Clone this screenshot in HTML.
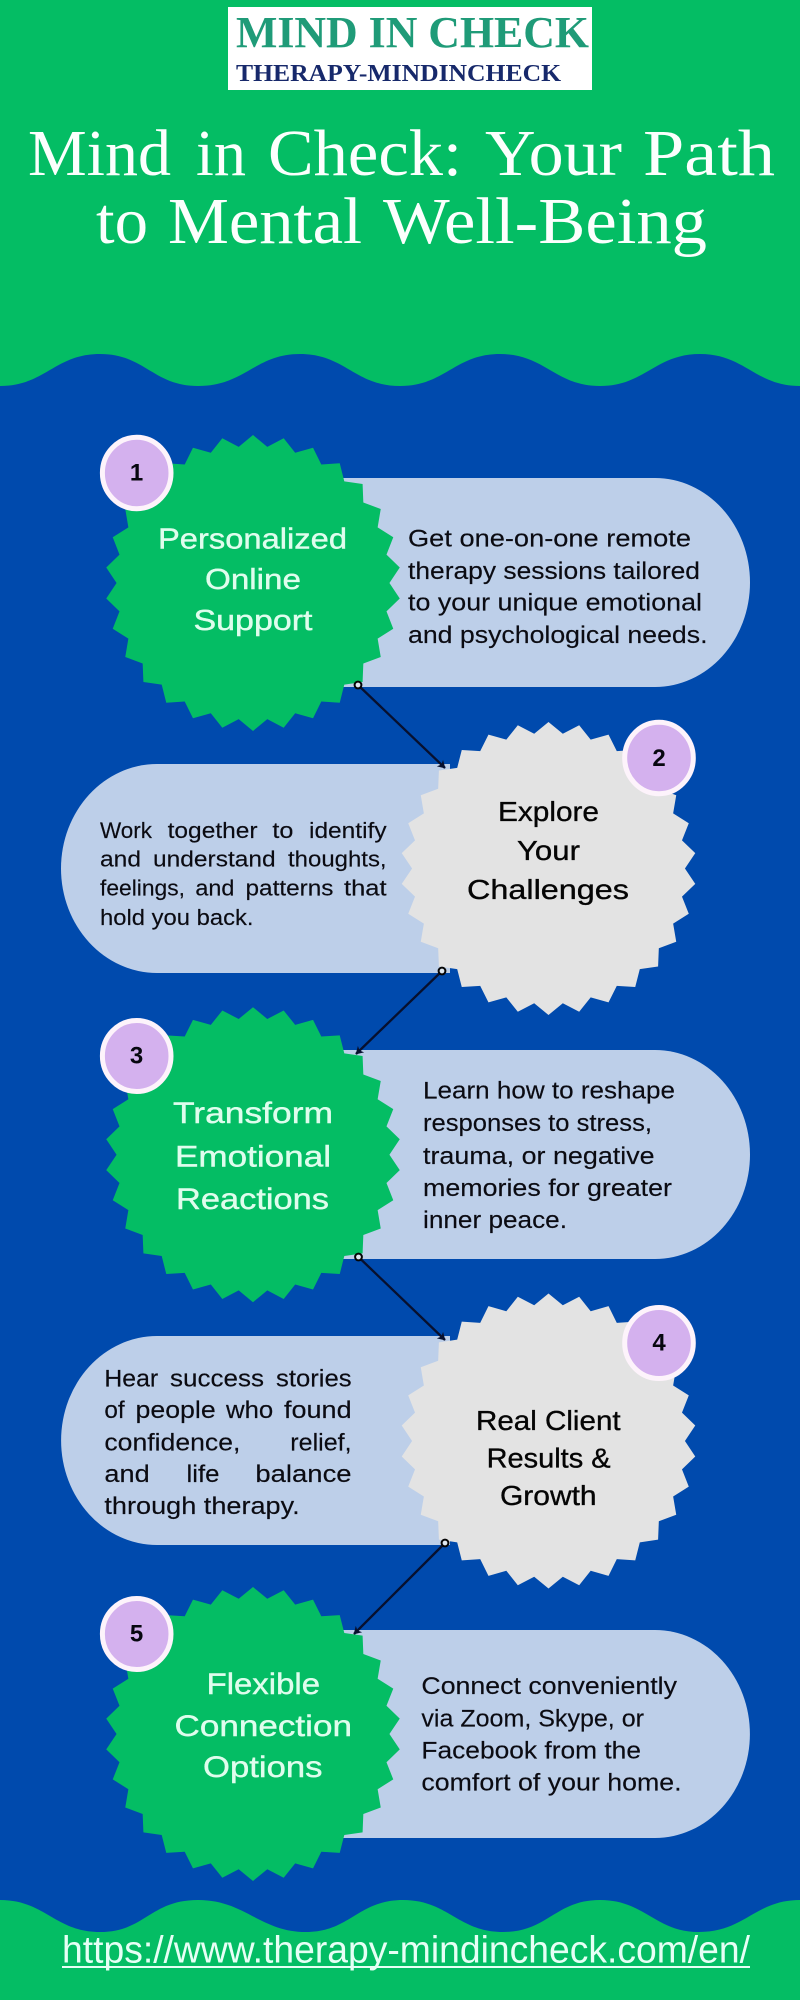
<!DOCTYPE html>
<html><head><meta charset="utf-8"><title>Mind in Check</title>
<style>
html,body{margin:0;padding:0;width:800px;height:2000px;overflow:hidden;background:#04bd64}
svg{display:block}
text{font-family:"Liberation Sans",sans-serif}
.t{font-family:"Liberation Serif",serif;font-size:66px;fill:#fbfffd}
.h{font-size:29px;fill:#dffded;stroke:#dffded;stroke-width:.4px}
.k{font-size:28px;fill:#050505;stroke:#050505;stroke-width:.35px}
.d{font-size:24px;fill:#0b0b12;stroke:#0b0b12;stroke-width:.15px}
.j{font-size:22.5px;fill:#0b0b12;stroke:#0b0b12;stroke-width:.15px}
.n{font-size:24px;font-weight:bold;fill:#07070f;text-anchor:middle}
.c{stroke:#07102e;stroke-width:2.3;fill:none;marker-end:url(#a)}
.o{fill:#dfe8f2;stroke:#050505;stroke-width:2}
.b{fill:#d4b1ee;stroke:#fdf3fb;stroke-width:5}
</style></head><body>
<svg xmlns="http://www.w3.org/2000/svg" width="800" height="2000" viewBox="0 0 800 2000">
<defs>
<polygon id="s" points="0,-100 9.7,-92 20.8,-97.8 28.6,-88 40.7,-91.4 46.3,-80.1 58.8,-80.9 61.9,-68.7 74.3,-66.9 74.8,-54.4 86.6,-50 84.5,-37.6 95.1,-30.9 90.5,-19.2 99.5,-10.5 92.5,0 99.5,10.5 90.5,19.2 95.1,30.9 84.5,37.6 86.6,50 74.8,54.4 74.3,66.9 61.9,68.7 58.8,80.9 46.3,80.1 40.7,91.4 28.6,88 20.8,97.8 9.7,92 0,100 -9.7,92 -20.8,97.8 -28.6,88 -40.7,91.4 -46.3,80.1 -58.8,80.9 -61.9,68.7 -74.3,66.9 -74.8,54.4 -86.6,50 -84.5,37.6 -95.1,30.9 -90.5,19.2 -99.5,10.5 -92.5,0 -99.5,-10.5 -90.5,-19.2 -95.1,-30.9 -84.5,-37.6 -86.6,-50 -74.8,-54.4 -74.3,-66.9 -61.9,-68.7 -58.8,-80.9 -46.3,-80.1 -40.7,-91.4 -28.6,-88 -20.8,-97.8 -9.7,-92"/>
<marker id="a" markerUnits="userSpaceOnUse" markerWidth="12" markerHeight="12" refX="9" refY="5" orient="auto">
<path d="M2 0.5 L9.5 5 L2 9.5 L4 5Z" fill="#07102e"/>
</marker>
</defs>

<rect width="800" height="2000" fill="#04bd64"/>
<path fill="#004aad" d="M0 386 C45 386 55 354 100 354 C145 354 153 386 198 386 C245 386 255 354 300 354 C345 354 355 386 400 386 C445 386 455 354 500 354 C545 354 555 386 600 386 C645 386 655 354 700 354 C745 354 755 386 800 386 L800 1900 C755 1900 745 1932 699 1932 C655 1932 645 1900 600 1900 C555 1900 548 1932 503 1932 C458 1932 448 1900 403 1900 C358 1900 350 1932 306 1932 C260 1932 245 1900 198 1900 C150 1900 145 1932 100 1932 C55 1932 45 1900 0 1900 Z"/>

<rect x="228" y="7" width="364" height="83" fill="#fff"/>
<text x="236" y="47" font-size="44" font-weight="bold" fill="#1f9b78" textLength="353" lengthAdjust="spacingAndGlyphs" style="font-family:'Liberation Serif',serif">MIND IN CHECK</text>
<text x="236" y="81" font-size="24" font-weight="bold" fill="#17296b" textLength="325" lengthAdjust="spacingAndGlyphs" style="font-family:'Liberation Serif',serif">THERAPY-MINDINCHECK</text>
<text class="t" x="28" y="175" textLength="143" lengthAdjust="spacingAndGlyphs">Mind</text>
<text class="t" x="196" y="175" textLength="50" lengthAdjust="spacingAndGlyphs">in</text>
<text class="t" x="268" y="175" textLength="194" lengthAdjust="spacingAndGlyphs">Check:</text>
<text class="t" x="485" y="175" textLength="137" lengthAdjust="spacingAndGlyphs">Your</text>
<text class="t" x="643" y="175" textLength="132" lengthAdjust="spacingAndGlyphs">Path</text>
<text class="t" x="96" y="243" textLength="52" lengthAdjust="spacingAndGlyphs">to</text>
<text class="t" x="168" y="243" textLength="194" lengthAdjust="spacingAndGlyphs">Mental</text>
<text class="t" x="383" y="243" textLength="324" lengthAdjust="spacingAndGlyphs">Well-Being</text>

<!-- pills -->
<path fill="#bdcfe9" d="M340 478 H655 A95 104.5 0 0 1 655 687 H340Z"/>
<path fill="#bdcfe9" d="M450 764 H157 A96 104.5 0 0 0 157 973 H450Z"/>
<path fill="#bdcfe9" d="M340 1050 H655 A95 104.5 0 0 1 655 1259 H340Z"/>
<path fill="#bdcfe9" d="M450 1336 H157 A96 104.5 0 0 0 157 1545 H450Z"/>
<path fill="#bdcfe9" d="M340 1630 H655 A95 104 0 0 1 655 1838 H340Z"/>

<!-- bursts -->
<use href="#s" fill="#04bd64" transform="translate(253 583) scale(1.475 1.48)"/>
<use href="#s" fill="#e3e3e3" transform="translate(548.5 868.5) scale(1.475 1.465)"/>
<use href="#s" fill="#04bd64" transform="translate(253 1154.7) scale(1.475 1.475)"/>
<use href="#s" fill="#e3e3e3" transform="translate(548.5 1441) scale(1.475 1.475)"/>
<use href="#s" fill="#04bd64" transform="translate(253 1734) scale(1.475 1.47)"/>

<!-- badges -->
<ellipse class="b" cx="136.7" cy="473" rx="34.3" ry="35.7"/>
<ellipse class="b" cx="659" cy="758" rx="34.3" ry="35.7"/>
<ellipse class="b" cx="136.7" cy="1056" rx="34.3" ry="35.5"/>
<ellipse class="b" cx="659" cy="1343" rx="34.3" ry="35.5"/>
<ellipse class="b" cx="136.7" cy="1634" rx="34.3" ry="35.5"/>
<text class="n" x="136.5" y="480.5">1</text>
<text class="n" x="659" y="766">2</text>
<text class="n" x="136.5" y="1063.5">3</text>
<text class="n" x="659" y="1350.5">4</text>
<text class="n" x="136.5" y="1641.5">5</text>

<!-- connectors -->
<line class="c" x1="358" y1="685" x2="445" y2="768"/>
<circle class="o" cx="358" cy="685" r="3.4"/>
<line class="c" x1="442" y1="971" x2="356" y2="1054"/>
<circle class="o" cx="442" cy="971" r="3.4"/>
<line class="c" x1="358.5" y1="1257" x2="445" y2="1340"/>
<circle class="o" cx="358.5" cy="1257" r="3.4"/>
<line class="c" x1="445" y1="1543" x2="354" y2="1634"/>
<circle class="o" cx="445" cy="1543" r="3.4"/>

<!-- burst titles -->
<text class="h" x="158" y="548.5" textLength="189" lengthAdjust="spacingAndGlyphs">Personalized</text>
<text class="h" x="205" y="589" textLength="96" lengthAdjust="spacingAndGlyphs">Online</text>
<text class="h" x="193.5" y="630" textLength="119" lengthAdjust="spacingAndGlyphs">Support</text>

<text class="k" x="498" y="821" textLength="101" lengthAdjust="spacingAndGlyphs">Explore</text>
<text class="k" x="517" y="860" textLength="63" lengthAdjust="spacingAndGlyphs">Your</text>
<text class="k" x="467" y="899" textLength="162" lengthAdjust="spacingAndGlyphs">Challenges</text>

<text class="h" x="173" y="1123" textLength="160" lengthAdjust="spacingAndGlyphs" style="font-size:30px">Transform</text>
<text class="h" x="175" y="1166.5" textLength="156" lengthAdjust="spacingAndGlyphs" style="font-size:30px">Emotional</text>
<text class="h" x="176" y="1209" textLength="153" lengthAdjust="spacingAndGlyphs" style="font-size:30px">Reactions</text>

<text class="k" x="476" y="1430" textLength="144.6" lengthAdjust="spacingAndGlyphs">Real Client</text>
<text class="k" x="486.6" y="1467.7" textLength="124" lengthAdjust="spacingAndGlyphs">Results &amp;</text>
<text class="k" x="500" y="1505" textLength="96.6" lengthAdjust="spacingAndGlyphs">Growth</text>

<text class="h" x="206.6" y="1694" textLength="113.4" lengthAdjust="spacingAndGlyphs" style="font-size:30px">Flexible</text>
<text class="h" x="174.5" y="1736" textLength="177.5" lengthAdjust="spacingAndGlyphs" style="font-size:30px">Connection</text>
<text class="h" x="203" y="1777" textLength="119.5" lengthAdjust="spacingAndGlyphs" style="font-size:30px">Options</text>

<!-- descriptions -->
<text class="d" x="408" y="546.5" textLength="283" lengthAdjust="spacingAndGlyphs">Get one-on-one remote</text>
<text class="d" x="408" y="579" textLength="292" lengthAdjust="spacingAndGlyphs">therapy sessions tailored</text>
<text class="d" x="408" y="610.5" textLength="294" lengthAdjust="spacingAndGlyphs">to your unique emotional</text>
<text class="d" x="408" y="643" textLength="299.5" lengthAdjust="spacingAndGlyphs">and psychological needs.</text>

<text class="j" x="100" y="838" textLength="52" lengthAdjust="spacingAndGlyphs">Work</text>
<text class="j" x="167.6" y="838" textLength="90" lengthAdjust="spacingAndGlyphs">together</text>
<text class="j" x="272.4" y="838" textLength="21" lengthAdjust="spacingAndGlyphs">to</text>
<text class="j" x="309" y="838" textLength="77.6" lengthAdjust="spacingAndGlyphs">identify</text>
<text class="j" x="100" y="866.6" textLength="41" lengthAdjust="spacingAndGlyphs">and</text>
<text class="j" x="153" y="866.6" textLength="122.7" lengthAdjust="spacingAndGlyphs">understand</text>
<text class="j" x="288" y="866.6" textLength="98.6" lengthAdjust="spacingAndGlyphs">thoughts,</text>
<text class="j" x="100" y="895.5" textLength="85" lengthAdjust="spacingAndGlyphs">feelings,</text>
<text class="j" x="195.4" y="895.5" textLength="39" lengthAdjust="spacingAndGlyphs">and</text>
<text class="j" x="245.5" y="895.5" textLength="88" lengthAdjust="spacingAndGlyphs">patterns</text>
<text class="j" x="344" y="895.5" textLength="42.6" lengthAdjust="spacingAndGlyphs">that</text>
<text class="j" x="100" y="925" textLength="153.5" lengthAdjust="spacingAndGlyphs">hold you back.</text>

<text class="d" x="423" y="1098.7" textLength="252" lengthAdjust="spacingAndGlyphs">Learn how to reshape</text>
<text class="d" x="423" y="1131" textLength="229" lengthAdjust="spacingAndGlyphs">responses to stress,</text>
<text class="d" x="423" y="1164" textLength="231.6" lengthAdjust="spacingAndGlyphs">trauma, or negative</text>
<text class="d" x="423" y="1196" textLength="249" lengthAdjust="spacingAndGlyphs">memories for greater</text>
<text class="d" x="423" y="1228" textLength="144" lengthAdjust="spacingAndGlyphs">inner peace.</text>

<text class="d" x="104.4" y="1386.5" textLength="53.8" lengthAdjust="spacingAndGlyphs">Hear</text>
<text class="d" x="170" y="1386.5" textLength="94" lengthAdjust="spacingAndGlyphs">success</text>
<text class="d" x="276" y="1386.5" textLength="75.6" lengthAdjust="spacingAndGlyphs">stories</text>
<text class="d" x="104.4" y="1418" textLength="20.3" lengthAdjust="spacingAndGlyphs">of</text>
<text class="d" x="135.5" y="1418" textLength="80.2" lengthAdjust="spacingAndGlyphs">people</text>
<text class="d" x="226" y="1418" textLength="47.2" lengthAdjust="spacingAndGlyphs">who</text>
<text class="d" x="284" y="1418" textLength="67.6" lengthAdjust="spacingAndGlyphs">found</text>
<text class="d" x="104.4" y="1450.4" textLength="136" lengthAdjust="spacingAndGlyphs">confidence,</text>
<text class="d" x="290.3" y="1450.4" textLength="61.3" lengthAdjust="spacingAndGlyphs">relief,</text>
<text class="d" x="104.4" y="1482" textLength="45.3" lengthAdjust="spacingAndGlyphs">and</text>
<text class="d" x="186.5" y="1482" textLength="33" lengthAdjust="spacingAndGlyphs">life</text>
<text class="d" x="255.4" y="1482" textLength="96.2" lengthAdjust="spacingAndGlyphs">balance</text>
<text class="d" x="104.4" y="1514" textLength="195.3" lengthAdjust="spacingAndGlyphs">through therapy.</text>

<text class="d" x="421.4" y="1694" textLength="255.6" lengthAdjust="spacingAndGlyphs">Connect conveniently</text>
<text class="d" x="421.4" y="1726.7" textLength="222.6" lengthAdjust="spacingAndGlyphs">via Zoom, Skype, or</text>
<text class="d" x="421.4" y="1758.7" textLength="219.6" lengthAdjust="spacingAndGlyphs">Facebook from the</text>
<text class="d" x="421.4" y="1790.7" textLength="260.2" lengthAdjust="spacingAndGlyphs">comfort of your home.</text>

<text x="62" y="1962.7" font-size="38" fill="#e6fff5" textLength="688" lengthAdjust="spacingAndGlyphs">https://www.therapy-mindincheck.com/en/</text>
<rect x="62" y="1966" width="688" height="2" fill="#e6fff5"/>
</svg>
</body></html>
